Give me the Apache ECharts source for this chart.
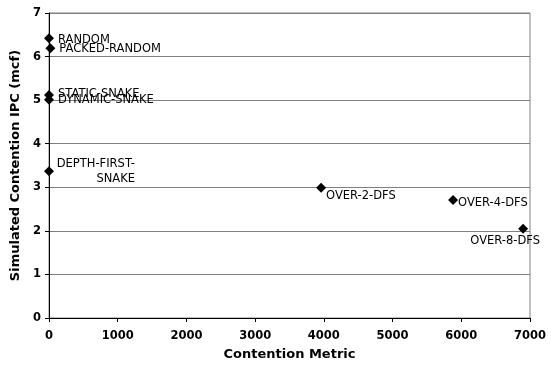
<!DOCTYPE html>
<html><head><meta charset="utf-8">
<script src="https://cdn.jsdelivr.net/npm/echarts@6/dist/echarts.min.js"></script>
<style>html,body{margin:0;padding:0;background:#fff}#c{width:551px;height:366px}</style>
</head><body><div id="c"></div>
<script>
const names = ['RANDOM','PACKED-RANDOM','STATIC-SNAKE','DYNAMIC-SNAKE','DEPTH-FIRST-\nSNAKE','OVER-2-DFS','OVER-4-DFS','OVER-8-DFS'];
const contention = [0, 20, 0, 0, 0, 3960, 5880, 6900];
const ipc = [6.42, 6.19, 5.12, 5.01, 3.37, 2.99, 2.71, 2.05];
const xTicks = [0,1000,2000,3000,4000,5000,6000,7000];
const yTicks = [0,1,2,3,4,5,6,7];

// label placement styles (offsets in px), one per point
const labelStyles = [
  {position:'right', distance:4, offset:[0,2]},
  {position:'right', distance:4, offset:[0,1]},
  {position:'right', distance:4, offset:[0,-1]},
  {position:'right', distance:4, offset:[0,0]},
  {position:'right', distance:4, offset:[77,0], align:'right'},
  {position:'right', distance:0, offset:[0,8]},
  {position:'right', distance:0, offset:[0,3]},
  {position:'bottom', distance:0, offset:[-18,0]}
];

const data = names.map((n,i)=>({
  name:n, value:[contention[i], ipc[i]],
  label:Object.assign({show:true, formatter:'{b}', color:'#000', fontFamily:'DejaVu Sans', fontSize:11.5, lineHeight:15}, labelStyles[i])
}));

const chart = echarts.init(document.getElementById('c'), null, {renderer:'canvas'});
chart.setOption({
  animation:false,
  backgroundColor:'#fff',
  grid:{left:49, right:21, top:13, bottom:48, show:true, borderColor:'#808080', borderWidth:1},
  xAxis:{
    type:'value', min:xTicks[0], max:xTicks[xTicks.length-1], interval:1000,
    name:'Contention Metric', nameLocation:'middle', nameGap:30,
    nameTextStyle:{fontFamily:'DejaVu Sans', fontWeight:'bold', fontSize:13, color:'#000'},
    axisLine:{lineStyle:{color:'#000', width:1}},
    axisTick:{show:true, length:4, lineStyle:{color:'#000'}},
    axisLabel:{fontFamily:'DejaVu Sans', fontWeight:'bold', fontSize:11.5, color:'#000', margin:12, formatter:v=>String(v)},
    splitLine:{show:false}
  },
  yAxis:{
    type:'value', min:yTicks[0], max:yTicks[yTicks.length-1], interval:1,
    name:'Simulated Contention IPC (mcf)', nameLocation:'middle', nameGap:19, nameRotate:90,
    nameTextStyle:{fontFamily:'DejaVu Sans', fontWeight:'bold', fontSize:13, color:'#000'},
    axisLine:{show:true, lineStyle:{color:'#000', width:1}},
    axisTick:{show:true, length:4, lineStyle:{color:'#000'}},
    axisLabel:{fontFamily:'DejaVu Sans', fontWeight:'bold', fontSize:11.5, color:'#000', margin:8},
    splitLine:{show:true, lineStyle:{color:'#808080', width:1}}
  },
  series:[{
    type:'scatter', symbol:'diamond', symbolSize:10,
    itemStyle:{color:'#000', opacity:1},
    data:data
  }]
});
</script></body></html>
